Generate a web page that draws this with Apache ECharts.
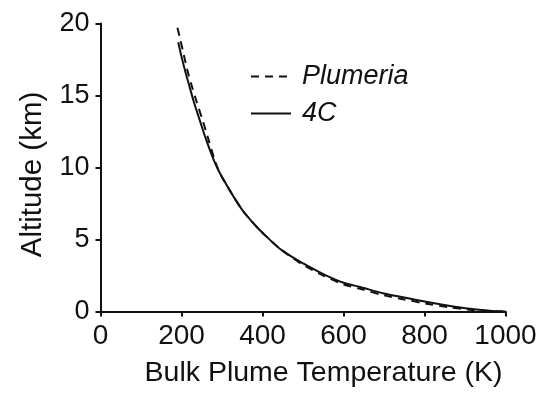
<!DOCTYPE html>
<html>
<head>
<meta charset="utf-8">
<script src="https://cdn.jsdelivr.net/npm/echarts@6/dist/echarts.min.js"></script>
<style>
html,body{margin:0;padding:0;background:#fff;}
#chart{width:559px;height:393px;}
</style>
</head>
<body>
<div id="chart"></div>
<script>
var fourCTemp = [192, 200, 210, 220, 230, 246, 260, 280, 295, 310, 328, 350, 369, 390, 410, 439, 470, 500, 550, 600, 641, 700, 750, 800, 860, 912, 960, 1000];
var fourCAlt  = [18.7, 17.7, 16.6, 15.6, 14.6, 13.2, 12.0, 10.5, 9.6, 8.85, 8.0, 7.05, 6.4, 5.75, 5.2, 4.45, 3.85, 3.35, 2.6, 2.0, 1.7, 1.25, 0.97, 0.69, 0.4, 0.19, 0.06, 0];
var plumeriaTemp = [190, 196, 205, 215, 225, 237, 253, 265, 282, 295, 310, 328, 350, 369, 390, 410, 439, 470, 500, 550, 600, 641, 700, 750, 800, 860, 912, 960, 1000];
var plumeriaAlt  = [19.7, 19.0, 17.9, 16.7, 15.7, 14.6, 13.2, 12.1, 10.5, 9.6, 8.85, 8.0, 7.05, 6.4, 5.75, 5.2, 4.45, 3.8, 3.25, 2.5, 1.88, 1.58, 1.12, 0.84, 0.57, 0.3, 0.12, 0.03, 0];
var seriesNames = ['Plumeria', '4C'];
var xName = 'Bulk Plume Temperature (K)';
var yName = 'Altitude (km)';

function pairs(xs, ys) { return xs.map(function (x, i) { return [x, ys[i]]; }); }

var chart = echarts.init(document.getElementById('chart'), null, {renderer: 'canvas'});
var font = 'Liberation Sans, Arial, sans-serif';
chart.setOption({
  animation: false,
  backgroundColor: '#fff',
  grid: {left: 100.5, right: 53.5, top: 23.5, bottom: 80.7, containLabel: false},
  legend: {
    orient: 'vertical', left: 245, top: 58, itemWidth: 40, itemHeight: 14, itemGap: 10,
    itemStyle: {opacity: 0},
    textStyle: {fontFamily: font, fontSize: 27, fontStyle: 'italic', color: '#111', padding: [0, 0, 0, 6]},
    data: seriesNames
  },
  xAxis: {
    type: 'value', min: 0, max: 1000, interval: 200,
    name: xName, nameLocation: 'middle', nameGap: 47.5,
    nameTextStyle: {fontFamily: font, fontSize: 28.5, color: '#111', padding: [0, 0, 0, 41]},
    axisLine: {lineStyle: {color: '#111', width: 2}},
    axisTick: {show: true, inside: false, length: 5, lineStyle: {color: '#111', width: 2}},
    axisLabel: {fontFamily: font, fontSize: 28, color: '#111', margin: 11,
      formatter: function (v) { return String(v); }},
    splitLine: {show: false}
  },
  yAxis: {
    type: 'value', min: 0, max: 20, interval: 5,
    name: yName, nameLocation: 'middle', nameGap: 53,
    nameTextStyle: {fontFamily: font, fontSize: 29.5, color: '#111', padding: [0, 14, 0, 0]},
    axisLine: {show: true, lineStyle: {color: '#111', width: 2}},
    axisTick: {show: true, inside: false, length: 5, lineStyle: {color: '#111', width: 2}},
    axisLabel: {fontFamily: font, fontSize: 27, color: '#111', margin: 11},
    splitLine: {show: false}
  },
  series: [
    {
      name: seriesNames[0], type: 'line', data: pairs(plumeriaTemp, plumeriaAlt),
      showSymbol: false, symbol: 'none', smooth: 0.3,
      lineStyle: {color: '#111', width: 2, type: [8, 6]},
      itemStyle: {color: '#111'}
    },
    {
      name: seriesNames[1], type: 'line', data: pairs(fourCTemp, fourCAlt),
      showSymbol: false, symbol: 'none', smooth: 0.3,
      lineStyle: {color: '#111', width: 2, type: 'solid'},
      itemStyle: {color: '#111'}
    }
  ]
});
</script>
</body>
</html>
